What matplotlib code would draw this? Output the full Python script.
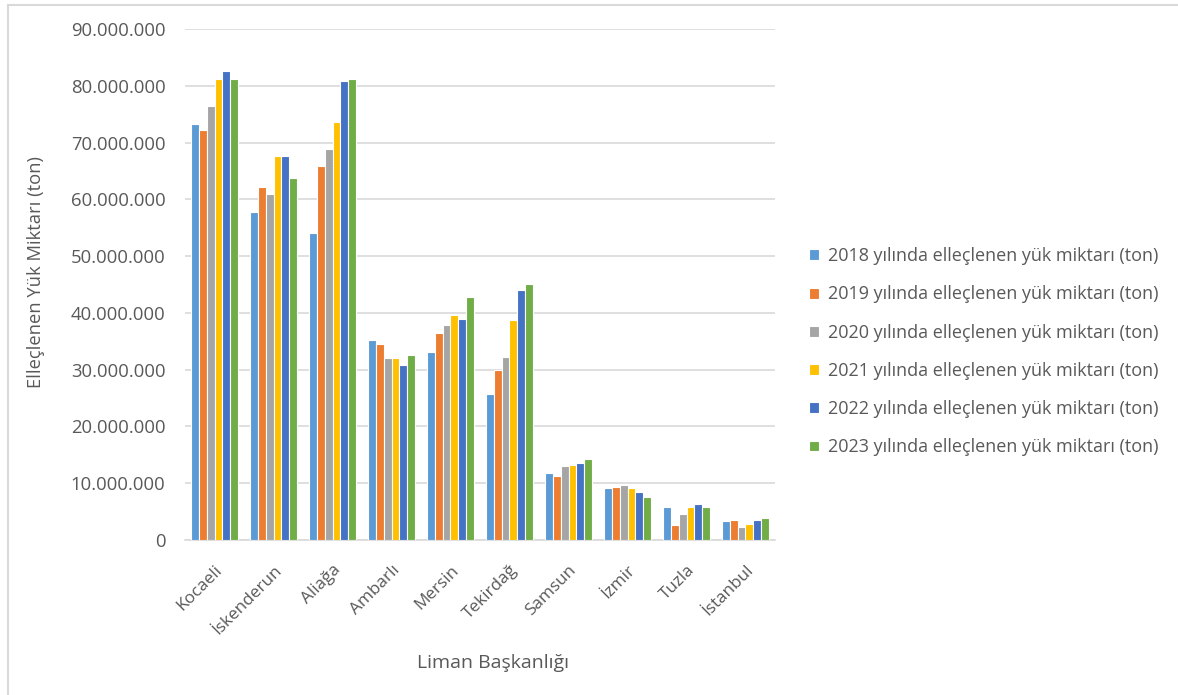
import matplotlib
matplotlib.use("Agg")
import matplotlib.pyplot as plt
import numpy as np
from matplotlib.ticker import FuncFormatter
from matplotlib.lines import Line2D

ports = ["Kocaeli", "İskenderun", "Aliağa", "Ambarlı", "Mersin", "Tekirdağ",
         "Samsun", "İzmir", "Tuzla", "İstanbul"]
years = ["2018", "2019", "2020", "2021", "2022", "2023"]

v2018 = [73.2, 57.7, 54.1, 35.3, 33.1, 25.7, 11.8, 9.2, 5.9, 3.4]
v2019 = [72.2, 62.2, 65.9, 34.6, 36.4, 30.0, 11.3, 9.4, 2.6, 3.6]
v2020 = [76.4, 61.0, 68.9, 32.0, 37.8, 32.3, 13.0, 9.6, 4.6, 2.3]
v2021 = [81.2, 67.7, 73.7, 32.0, 39.7, 38.7, 13.2, 9.2, 5.9, 2.8]
v2022 = [82.6, 67.6, 80.9, 30.8, 38.9, 44.1, 13.6, 8.4, 6.3, 3.6]
v2023 = [81.2, 63.8, 81.2, 32.5, 42.8, 45.1, 14.2, 7.6, 5.8, 3.8]
series = [v2018, v2019, v2020, v2021, v2022, v2023]

colors = ["#5B9BD5", "#ED7D31", "#A5A5A5", "#FFC000", "#4472C4", "#70AD47"]
text_color = "#595959"

plt.rcParams['font.family'] = ['Open Sans', 'DejaVu Sans']

fig = plt.figure(figsize=(11.78, 6.95), dpi=100)
W, H = 1178, 695
ax = fig.add_axes([185 / W, (H - 540) / H, (775 - 185) / W, (540 - 29) / H])

x = np.arange(len(ports))
n = len(series)
group = 0.80
bw = group / n
for i, (vals, c, yr) in enumerate(zip(series, colors, years)):
    offs = (i - (n - 1) / 2) * bw
    ax.bar(x + offs, np.array(vals) * 1e6, width=bw, color=c,
           edgecolor="white", linewidth=0.8,
           label=f"{yr} yılında elleçlenen yük miktarı (ton)", zorder=3)

ax.set_xlim(-0.5, len(ports) - 0.5)
ax.set_ylim(0, 90e6)
ax.set_yticks(np.arange(0, 90e6 + 1, 10e6))
ax.yaxis.set_major_formatter(FuncFormatter(lambda v, p: f"{int(v):,}".replace(",", ".")))
ax.grid(axis="y", color="#D9D9D9", linewidth=1.2, zorder=0)
for s in ["top", "right", "left"]:
    ax.spines[s].set_visible(False)
ax.spines["bottom"].set_color("#D9D9D9")
ax.spines["bottom"].set_linewidth(1.2)
ax.tick_params(axis="y", length=0, labelsize=13.3, labelcolor=text_color, pad=14)
ax.tick_params(axis="x", length=0, labelsize=12.3, labelcolor=text_color, pad=16)
ax.set_xticks(x)
ax.set_xticklabels(ports, rotation=45, ha="right", rotation_mode="anchor")

ax.set_ylabel("Elleçlenen Yük Miktarı (ton)", fontsize=13.2, color=text_color)
ax.yaxis.set_label_coords((45 - 185) / 590, (540 - 272) / 511)
ax.set_xlabel("Liman Başkanlığı", fontsize=14, color=text_color)
ax.xaxis.set_label_coords((493 - 185) / 590, -(654 - 540) / 511)

leg = fig.legend(loc="upper left", bbox_to_anchor=(793 / W, 1 - 231 / H),
                 frameon=False, fontsize=13, labelcolor=text_color,
                 handlelength=0.55, handleheight=0.55, handletextpad=0.5,
                 labelspacing=1.12)

# chart-area border (top and left edges visible)
fig.add_artist(Line2D([8 / W, 8 / W], [0, 1 - 5 / H], transform=fig.transFigure,
                      color="#D9D9D9", linewidth=1.5))
fig.add_artist(Line2D([8 / W, 1], [1 - 5 / H, 1 - 5 / H], transform=fig.transFigure,
                      color="#D9D9D9", linewidth=1.5))

fig.savefig("out.png", dpi=100, facecolor="white")
